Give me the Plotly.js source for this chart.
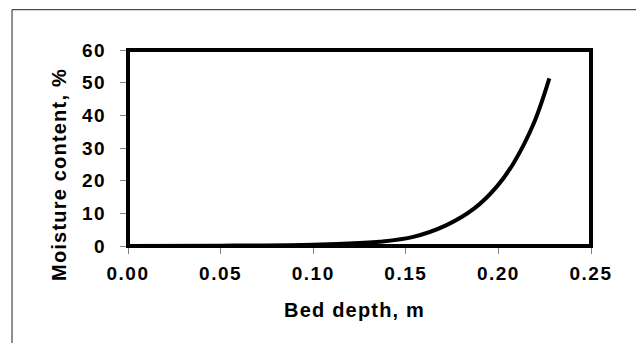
<!DOCTYPE html>
<html>
<head>
<meta charset="utf-8">
<script src="https://cdn.plot.ly/plotly-3.0.1.min.js"></script>
<style>
html, body { margin: 0; padding: 0; background: #ffffff; }
#chart { width: 636px; height: 343px; }
.xtick text, .ytick text { letter-spacing: 1.5px; }
.annotation-text { letter-spacing: 1.2px; }
</style>
</head>
<body>
<div id="chart"></div>
<script>
// Data
const bedDepth = [0, 0.05, 0.10, 0.125, 0.136, 0.154, 0.172, 0.187, 0.199, 0.208, 0.219, 0.2275];
const moisture = [0, 0.1, 0.4, 0.9, 1.3, 2.8, 6.4, 11.5, 18.1, 25.2, 37.4, 51.3];
const xTicks = [0, 0.05, 0.10, 0.15, 0.20, 0.25];
const yTicks = [0, 10, 20, 30, 40, 50, 60];
const xTitle = "Bed depth, m";
const yTitle = "Moisture content, %";

const fontFam = "Arial, 'Liberation Sans', sans-serif";

const trace = {
  x: bedDepth,
  y: moisture,
  type: "scatter",
  mode: "lines",
  line: { color: "#000000", width: 4, shape: "spline", smoothing: 1 },
  hoverinfo: "skip",
  showlegend: false
};

const axisCommon = {
  showgrid: false,
  zeroline: false,
  showline: false,
  ticks: "outside",
  ticklen: 7,
  tickwidth: 1,
  tickcolor: "#808080",
  tickfont: { family: fontFam, size: 19, color: "#000000", weight: "bold" },
  fixedrange: true
};

const layout = {
  width: 636,
  height: 343,
  margin: { l: 128, r: 45, t: 50, b: 97, pad: 0 },
  paper_bgcolor: "#ffffff",
  plot_bgcolor: "#ffffff",
  xaxis: Object.assign({}, axisCommon, {
    range: [0, 0.25],
    tickvals: xTicks,
    tickformat: ".2f",
    ticklabelstandoff: 3
  }),
  yaxis: Object.assign({}, axisCommon, {
    range: [0, 60],
    tickvals: yTicks,
    ticklabelstandoff: 10
  }),
  shapes: [
    { type: "rect", xref: "paper", yref: "paper", x0: 0, x1: 1, y0: 0, y1: 1,
      line: { color: "#000000", width: 4 }, layer: "above" },
    { type: "line", xref: "paper", yref: "paper", x0: -0.2505, x1: 1.2, y0: 1.2056, y1: 1.2056,
      line: { color: "#222222", width: 1 } },
    { type: "line", xref: "paper", yref: "paper", x0: -0.2505, x1: -0.2505, y0: 1.2056, y1: -0.6,
      line: { color: "#222222", width: 1 } }
  ],
  annotations: [
    { text: xTitle, xref: "paper", yref: "paper", x: 0.489, y: -0.325,
      xanchor: "center", yanchor: "middle", showarrow: false,
      font: { family: fontFam, size: 20, color: "#000000", weight: "bold" } },
    { text: yTitle, xref: "paper", yref: "paper", x: -0.148, y: 0.365,
      xanchor: "center", yanchor: "middle", showarrow: false, textangle: -90,
      font: { family: fontFam, size: 20, color: "#000000", weight: "bold" } }
  ]
};

Plotly.newPlot("chart", [trace], layout, { displayModeBar: false, staticPlot: true });
</script>
</body>
</html>
